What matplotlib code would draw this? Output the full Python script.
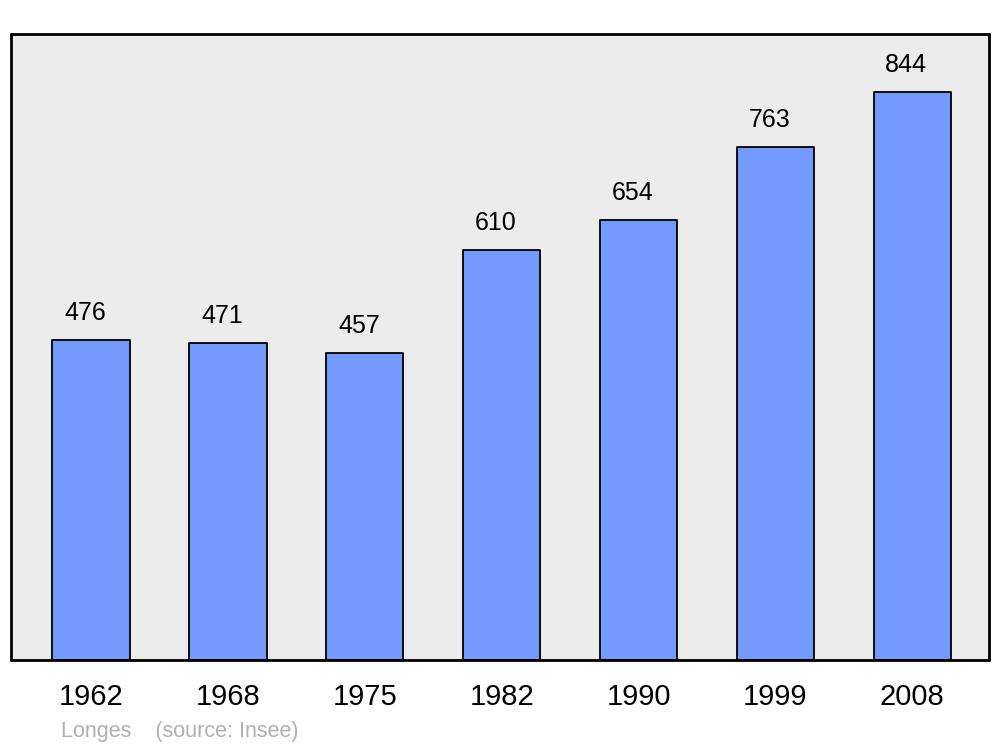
import matplotlib
matplotlib.use("Agg")
import matplotlib.pyplot as plt

years = ["1962", "1968", "1975", "1982", "1990", "1999", "2008"]
population = [476, 471, 457, 610, 654, 763, 844]

plt.rcParams['font.family'] = ['Liberation Sans', 'DejaVu Sans']

fig = plt.figure(figsize=(10, 7.47), dpi=100)
ax = fig.add_axes([0.011, 1 - 660/747, 0.978, (660 - 34)/747])
ax.set_facecolor('#ececec')

x = list(range(len(years)))
bars = ax.bar(x, population, width=0.565, color='#7499ff', edgecolor='black',
              linewidth=1.3, zorder=2)
for b in bars:
    b.set_joinstyle('round')
for xi, v in zip(x, population):
    ax.annotate(str(v), (xi, v), xytext=(-4.3, 14.4), textcoords='offset points',
                ha='center', va='baseline', fontsize=18)

ax.set_xlim(-0.584, 6.56)
ax.set_ylim(0, 931)
ax.set_yticks([])
ax.set_xticks(x)
ax.set_xticklabels(years, fontsize=21)
ax.tick_params(axis='x', length=0, pad=16.5)
for s in ax.spines.values():
    s.set_linewidth(2)
    s.set_color('black')
    s.set_capstyle('round')

fig.text(0.061, 1 - 732/747, "Longes    (source: Insee)", color='#b0b0b0', fontsize=15.5,
         va='center', ha='left')

fig.savefig("out.png", dpi=100)
